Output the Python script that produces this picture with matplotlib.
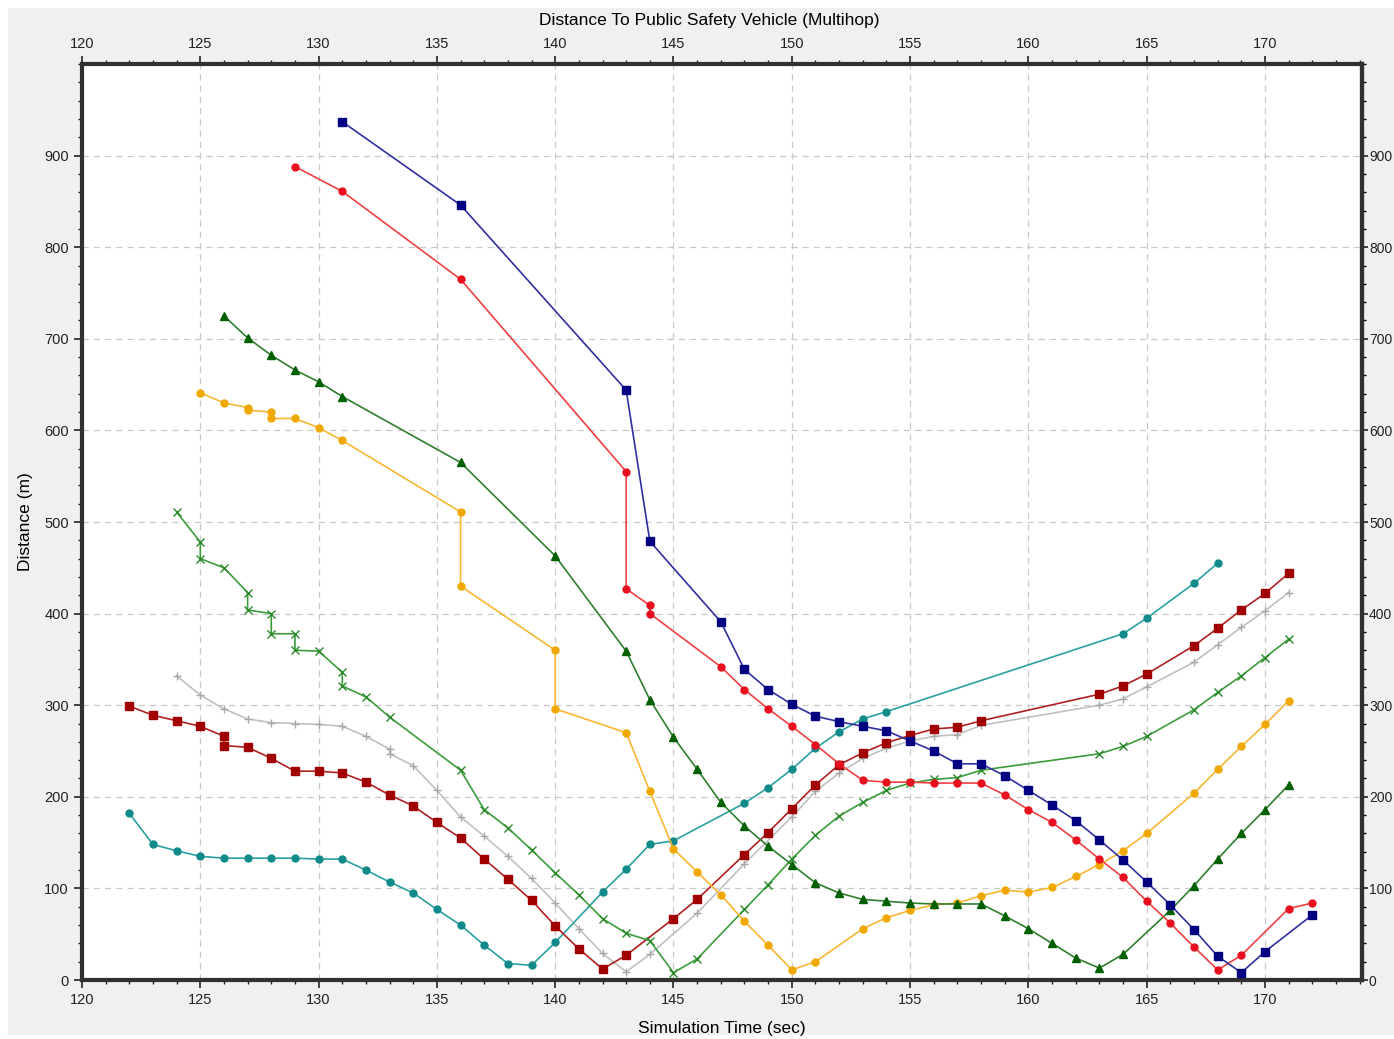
import matplotlib
matplotlib.use("Agg")
import matplotlib.pyplot as plt
from matplotlib.patches import Rectangle
from matplotlib.ticker import MultipleLocator

# series (time in sec, distance in m)
blue_x = [131, 136, 143, 144, 147, 148, 149, 150, 151, 152, 153, 154, 155, 156, 157, 158, 159, 160,
          161, 162, 163, 164, 165, 166, 167, 168, 169, 170, 172]
blue_y = [937, 846, 644, 479, 391, 339, 317, 301, 288, 282, 277, 272, 261, 250, 236, 236, 223, 207,
          191, 174, 153, 131, 107, 82, 55, 26, 8, 31, 71]

red_x = [129, 131, 136, 143, 143, 144, 144, 147, 148, 149, 150, 151, 152, 153, 154, 155, 156, 157,
         158, 159, 160, 161, 162, 163, 164, 165, 166, 167, 168, 169, 171, 172]
red_y = [888, 861, 765, 555, 427, 409, 400, 342, 317, 296, 277, 257, 236, 218, 216, 216, 215, 215,
         215, 202, 186, 172, 153, 132, 112, 86, 62, 36, 11, 27, 78, 84]

dgreen_x = [126, 127, 128, 129, 130, 131, 136, 140, 143, 144, 145, 146, 147, 148, 149, 150, 151, 152,
            153, 154, 155, 156, 157, 158, 159, 160, 161, 162, 163, 164, 166, 167, 168, 169, 170, 171]
dgreen_y = [725, 701, 682, 666, 653, 637, 565, 463, 359, 306, 265, 230, 194, 168, 146, 126, 106, 95,
            88, 86, 84, 83, 83, 83, 70, 56, 40, 24, 13, 28, 76, 103, 132, 160, 186, 213]

orange_x = [125, 126, 127, 127, 128, 128, 129, 130, 131, 136, 136, 140, 140, 143, 144, 145, 146, 147,
            148, 149, 150, 151, 153, 154, 155, 156, 157, 158, 159, 160, 161, 162, 163, 164, 165, 167,
            168, 169, 170, 171]
orange_y = [641, 630, 625, 622, 620, 613, 613, 603, 589, 511, 430, 360, 296, 270, 206, 143, 118, 93,
            64, 38, 11, 20, 56, 68, 76, 82, 84, 92, 98, 96, 101, 113, 126, 141, 160, 204,
            230, 255, 279, 305]

teal_x = [122, 123, 124, 125, 126, 127, 128, 129, 130, 131, 132, 133, 134, 135, 136, 137, 138, 139,
          140, 142, 143, 144, 145, 148, 149, 150, 151, 152, 153, 154, 164, 165, 167, 168]
teal_y = [182, 148, 141, 135, 133, 133, 133, 133, 132, 132, 120, 107, 95, 77, 60, 38, 18, 16,
          41, 96, 121, 148, 152, 193, 210, 230, 253, 271, 285, 293, 378, 395, 433, 455]

dred_x = [122, 123, 124, 125, 126, 126, 127, 128, 129, 130, 131, 132, 133, 134, 135, 136, 137, 138,
          139, 140, 141, 142, 143, 145, 146, 148, 149, 150, 151, 152, 153, 154, 155, 156, 157, 158,
          163, 164, 165, 167, 168, 169, 170, 171]
dred_y = [299, 289, 283, 277, 266, 256, 254, 242, 228, 228, 226, 216, 202, 190, 172, 155, 132, 110,
          87, 59, 34, 12, 27, 67, 88, 137, 161, 187, 213, 235, 248, 259, 267, 274, 276, 283,
          312, 321, 334, 365, 384, 404, 422, 444]

gray_x = [124, 125, 126, 127, 128, 129, 130, 131, 132, 133, 133, 134, 135, 136, 137, 138, 139, 140,
          141, 142, 143, 144, 146, 148, 150, 151, 152, 153, 154, 155, 156, 157, 158, 163, 164, 165,
          167, 168, 169, 170, 171]
gray_y = [332, 311, 296, 285, 281, 280, 279, 277, 266, 252, 247, 234, 207, 178, 157, 135, 111, 84,
          56, 29, 9, 28, 73, 127, 178, 206, 226, 242, 253, 261, 266, 268, 278, 300, 307, 320,
          347, 366, 385, 403, 423]

lgreen_x = [124, 125, 125, 126, 127, 127, 128, 128, 129, 129, 130, 131, 131, 132, 133, 136, 137, 138,
            139, 140, 141, 142, 143, 144, 145, 146, 148, 149, 150, 151, 152, 153, 154, 155, 156, 157,
            158, 163, 164, 165, 167, 168, 169, 170, 171]
lgreen_y = [511, 478, 460, 450, 423, 404, 400, 378, 378, 360, 359, 336, 321, 309, 287, 229, 186, 166,
            142, 117, 93, 67, 51, 43, 8, 23, 77, 104, 132, 158, 179, 194, 207, 215, 219, 221,
            229, 247, 255, 266, 295, 314, 332, 352, 372]

plt.rcParams["font.family"] = ["Liberation Sans", "DejaVu Sans"]

fig = plt.figure(figsize=(13.94, 10.39), dpi=100)
fig.patch.set_facecolor("white")
fig.patches.append(Rectangle((8 / 1394, 4 / 1039), 1, 1 - 12 / 1039, transform=fig.transFigure,
                             facecolor="#f0f0f0", edgecolor="none", zorder=-10))

ax = fig.add_axes([82 / 1394, 59 / 1039, 1280 / 1394, 916 / 1039])
ax.set_facecolor("white")

ax.plot(gray_x, gray_y, color="#c0c0c0", lw=1.2, marker="+", ms=6, mec="#a8a8a8", zorder=3)
ax.plot(teal_x, teal_y, color="#2aa0a0", lw=1.2, marker="o", ms=5, mfc="#118a8a", mec="#118a8a", zorder=3)
ax.plot(dred_x, dred_y, color="#b02020", lw=1.2, marker="s", ms=5.5, mfc="#a00000", mec="#a00000", zorder=3)
ax.plot(lgreen_x, lgreen_y, color="#3c9c3c", lw=1.2, marker="x", ms=5.5, mec="#2a8a2a", zorder=3)
ax.plot(orange_x, orange_y, color="#f7b733", lw=1.2, marker="o", ms=5, mfc="#f0a800", mec="#f0a800", zorder=3)
ax.plot(dgreen_x, dgreen_y, color="#2f7f2f", lw=1.2, marker="^", ms=5.5, mfc="#006000", mec="#006000", zorder=3)
ax.plot(red_x, red_y, color="#f04040", lw=1.2, marker="o", ms=5, mfc="#e8101e", mec="#e8101e", zorder=3)
ax.plot(blue_x, blue_y, color="#3030a0", lw=1.2, marker="s", ms=5.5, mfc="#000080", mec="#000080", zorder=3)

ax.set_xlim(120, 174.1)
ax.set_ylim(0, 1000)
ax.xaxis.set_major_locator(MultipleLocator(5))
ax.xaxis.set_minor_locator(MultipleLocator(1))
ax.set_yticks(range(0, 1000, 100))
ax.yaxis.set_minor_locator(MultipleLocator(20))

ax.grid(True, which="major", color="#c8c8c8", linestyle=(0, (5, 4)), linewidth=0.9)
ax.tick_params(which="both", direction="out", top=True, labeltop=True, right=False, labelright=False,
               labelsize=10.5, colors="#222222")
ax.tick_params(which="major", length=6, width=1.2)
ax.tick_params(which="minor", length=3, width=1.0)

# right axis: same scale, labels squeezed against the figure edge
sec = ax.secondary_yaxis("right")
sec.set_yticks(range(0, 1000, 100))
sec.yaxis.set_minor_locator(MultipleLocator(20))
sec.tick_params(which="major", direction="out", length=4, width=1.2, pad=1, labelsize=10, colors="#222222")
sec.tick_params(which="minor", direction="out", length=3, width=1.0)
for s in sec.spines.values():
    s.set_linewidth(3)
    s.set_color("#303030")

for s in ax.spines.values():
    s.set_linewidth(3)
    s.set_color("#303030")

ax.set_xlabel("Simulation Time (sec)", fontsize=12.5, labelpad=10)
ax.set_ylabel("Distance (m)", fontsize=12.5, labelpad=8)
ax.set_title("Distance To Public Safety Vehicle (Multihop)", fontsize=12.5, pad=28, x=0.49)

fig.savefig("out.png", dpi=100, facecolor=fig.get_facecolor())
